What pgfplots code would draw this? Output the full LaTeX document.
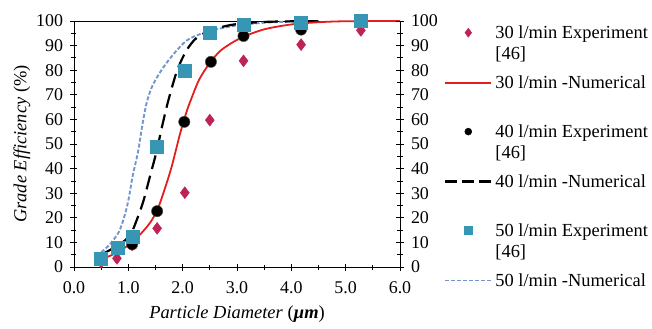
\documentclass[border=0pt]{standalone}
\usepackage{pgfplots}
\pgfplotsset{compat=1.18}
\usepackage{fontspec}
\setmainfont{Liberation Serif}
\definecolor{cdia}{RGB}{190,35,85}
\definecolor{csq}{RGB}{55,150,180}
\definecolor{cred}{RGB}{228,30,30}
\definecolor{cblue}{RGB}{115,150,205}
\pgfplotsset{
  mkleg/.style={legend image code/.code={\path (0bp,0bp) (46bp,12bp);\draw[##1] plot coordinates {(23bp,6bp)};}},
  lnleg/.style={legend image code/.code={\path (0bp,0bp) (46bp,12bp);\draw[##1] (0bp,6bp) -- (46bp,6bp);}},
}
\begin{document}
\begin{tikzpicture}[font=\rmfamily\fontsize{18.5}{21}\selectfont]
\useasboundingbox (-74bp,-62bp) rectangle (578bp,267bp);
\begin{axis}[
  at={(0,0)}, anchor=south west,
  scale only axis, width=326bp, height=246bp,
  xmin=0, xmax=6, ymin=0, ymax=100,
  xtick={0,1,...,6}, minor xtick={0.5,1.5,...,5.5},
  ytick={0,10,...,100}, minor ytick={5,15,...,95},
  xtick pos=bottom, ytick pos=both,
  yticklabel pos=left,
  tick align=center,
  major tick length=7bp, minor tick length=5bp,
  every tick/.style={black, line width=0.8pt},
  axis line style={line width=0.9pt},
  ticklabel style={font=\rmfamily\fontsize{18}{20}\selectfont},
  xticklabel style={anchor=base, yshift=-23bp},
  yticklabel style={anchor=east, xshift=-4bp},
  xticklabel={\pgfmathprintnumber[fixed,fixed zerofill,precision=1]{\tick}},
  /pgf/number format/assume math mode=true,
  xlabel={\textit{Particle Diameter} (\textbf{\textit{µm}})},
  ylabel={\textit{Grade Efficiency} (\%)},
  xlabel style={at={(axis description cs:0.5,0)}, anchor=base, yshift=-51bp},
  ylabel style={at={(axis description cs:0,0.5)}, anchor=center, yshift=52bp},
  legend style={draw=none, fill=none, at={(1,1)}, anchor=north west, xshift=44bp, yshift=-3.5bp,
    inner sep=0pt, row sep=0pt, column sep=3bp,
    nodes={inner sep=0pt, text depth=},
    cells={anchor=base west}},
]
% numerical lines
\addplot[cblue, dash pattern=on 4bp off 2bp, line width=1.9bp, smooth, forget plot] coordinates {
 (0.5,6) (0.65,9) (0.82,14) (0.92,20) (1.0,27) (1.08,37) (1.18,47) (1.26,58) (1.34,67) (1.45,74) (1.64,81) (1.85,87) (2.07,92) (2.3,94.5) (2.6,96.5) (3.0,98.2) (3.5,99.3) (4.0,99.8) (4.3,100)};
\addplot[black, dash pattern=on 14bp off 7bp, line width=2.2bp, smooth, forget plot] coordinates {
 (0.5,5) (0.75,8) (0.95,11) (1.06,14) (1.17,20) (1.28,27) (1.4,37) (1.52,47) (1.63,58) (1.74,68) (1.9,80) (2.07,88) (2.25,93) (2.5,96) (2.8,98) (3.1,99) (3.6,99.7) (4.5,100)};
\addplot[cred, line width=1.8bp, smooth, forget plot] coordinates {
 (0.5,3) (0.8,6) (1.07,10) (1.25,14) (1.4,18) (1.53,23) (1.66,31) (1.80,41) (1.95,54) (2.07,63) (2.17,69) (2.3,76) (2.47,82) (2.7,88) (3.06,93) (3.5,96.6) (4.0,98.6) (4.5,99.5) (5.0,99.9) (6.0,100)};
% experiments
\addplot[only marks, mark=diamond*, mark size=6bp, mark options={fill=cdia, draw=cdia}, forget plot] coordinates {
 (0.5,2) (0.79,3.5) (1.07,9) (1.53,15.7) (2.04,30.2) (2.5,59.7) (3.12,83.8) (4.18,90.4) (5.28,96.2)};
\addplot[only marks, mark=*, mark size=5.7bp, mark options={fill=black, draw=black!70!yellow}, forget plot] coordinates {
 (0.5,-0.5) (0.79,7.6) (1.07,9.2) (1.53,22.7) (2.03,59) (2.52,83.4) (3.12,93.9) (4.18,96.5) (5.28,99.5)};
\addplot[only marks, mark=square*, mark size=6.5bp, mark options={fill=csq, draw=csq}, forget plot] coordinates {
 (0.5,3.5) (0.8,8) (1.08,12.3) (1.53,48.9) (2.03,79.6) (2.5,95.1) (3.12,98.6) (4.18,99.3) (5.28,100)};
% legend
\addlegendimage{mkleg, only marks, mark=diamond*, mark size=4.5bp, mark options={fill=cdia, draw=cdia}}
\addlegendentry{\parbox[t]{170bp}{\rule{0pt}{14bp}30 l/min Experiment\\[0bp][46]\rule[-15bp]{0pt}{0pt}}}
\addlegendimage{lnleg, cred, line width=1.8bp}
\addlegendentry{\rule{0pt}{14bp}30 l/min -Numerical\rule[-35bp]{0pt}{0pt}}
\addlegendimage{mkleg, only marks, mark=*, mark size=3.5bp, mark options={fill=black}}
\addlegendentry{\parbox[t]{170bp}{\rule{0pt}{14bp}40 l/min Experiment\\[0bp][46]\rule[-15bp]{0pt}{0pt}}}
\addlegendimage{lnleg, black, dash pattern=on 12bp off 5bp, line width=2.2bp}
\addlegendentry{\rule{0pt}{14bp}40 l/min -Numerical\rule[-35bp]{0pt}{0pt}}
\addlegendimage{mkleg, only marks, mark=square*, mark size=4bp, mark options={fill=csq, draw=csq}}
\addlegendentry{\parbox[t]{170bp}{\rule{0pt}{14bp}50 l/min Experiment\\[0bp][46]\rule[-15bp]{0pt}{0pt}}}
\addlegendimage{lnleg, cblue, dash pattern=on 4bp off 2bp, line width=1.9bp}
\addlegendentry{\rule{0pt}{14bp}50 l/min -Numerical}
\end{axis}
\begin{axis}[
  at={(0,0)}, anchor=south west,
  scale only axis, width=326bp, height=246bp,
  xmin=0, xmax=6, ymin=0, ymax=100,
  axis x line=none, axis y line*=right,
  ytick={0,10,...,100}, minor ytick={5,15,...,95},
  tick align=center,
  major tick length=7bp, minor tick length=5bp,
  every tick/.style={black, line width=0.8pt},
  axis line style={line width=0.9pt, -},
  ticklabel style={font=\rmfamily\fontsize{18}{20}\selectfont},
  /pgf/number format/assume math mode=true,
  yticklabel style={anchor=west, xshift=4bp},
]
\addplot[draw=none, forget plot] coordinates {(0,0) (6,100)};
\end{axis}
\end{tikzpicture}
\end{document}
